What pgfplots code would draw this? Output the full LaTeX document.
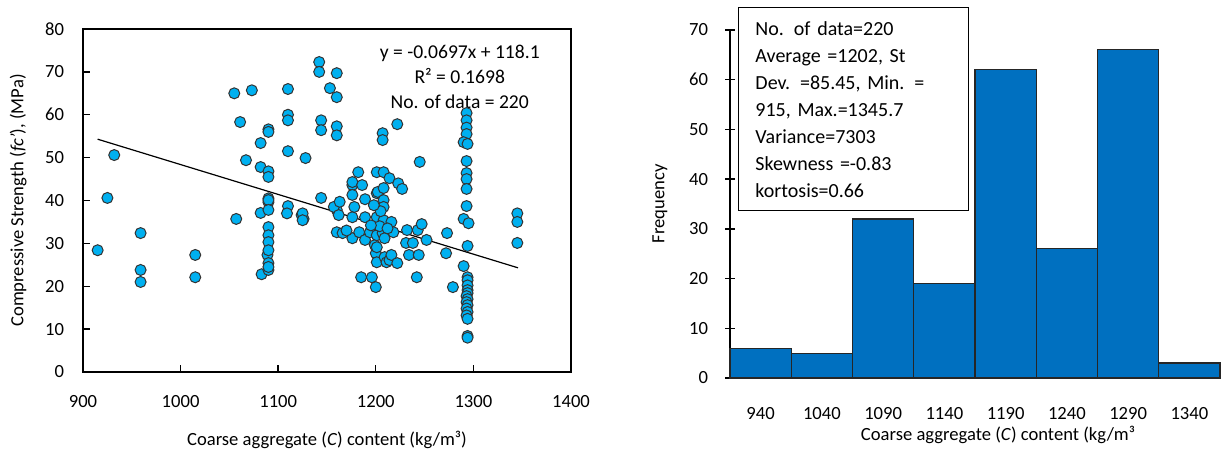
\documentclass[border=0pt]{standalone}
\usepackage{fontspec}
\setmainfont{Carlito}
\usepackage{pgfplots}
\pgfplotsset{compat=1.18}
\definecolor{dot}{RGB}{0,176,240}
\definecolor{barc}{RGB}{0,112,192}
\newcommand{\fs}{\fontsize{9.3}{11}\selectfont}
\begin{document}
\begin{tikzpicture}[x=1pt,y=1pt]
\begin{axis}[
  at={(41.5pt,41.5pt)}, anchor=south west,
  scale only axis, width=244pt, height=171.5pt,
  xmin=900, xmax=1400, ymin=0, ymax=80,
  xtick={900,1000,...,1400}, ytick={0,10,...,80},
  tick align=inside, xtick pos=bottom, ytick pos=left,
  major tick length=3.5pt,
  tick style={black, line width=0.7pt},
  axis line style={black, line width=1.3pt},
  /pgf/number format/assume math mode=true,
  /pgf/number format/set thousands separator={},
  ticklabel style={font=\fs},
  xticklabel style={yshift=-8pt},
  yticklabel style={xshift=-6pt},
  xlabel={Coarse aggregate (\textit{C}) content (kg/m³)},
  ylabel={Compressive Strength (\textit{fc'}), (MPa)},
  xlabel style={font=\fs, at={(axis description cs:0.5,-0.198)}, anchor=center},
  ylabel style={font=\fs, at={(axis description cs:-0.133,0.5)}, anchor=center},
  clip=false,
]
\addplot[black, line width=0.6pt] coordinates {(915,54.3) (1345.7,24.3)};
\addplot[only marks, mark=*, mark size=2.75pt, mark options={fill=dot, draw=black!80, line width=0.5pt}] coordinates {
(915,28.4) (925,40.6) (932,50.6) (959,32.4) (959,23.8) (959,21.0) (1015,27.3) (1015,22.1)
(1055,65.0) (1057,35.7) (1061,58.3) (1067,49.4) (1073,65.7) (1082,53.4) (1082,47.8) (1082,37.1)
(1083,22.8) (1089,27.3) (1090,56.6) (1090,56.0) (1090,46.8) (1090,45.5) (1090,40.5) (1090,39.6)
(1090,40.1) (1090,37.8) (1090,33.8) (1090,31.9) (1090,30.3) (1090,28.4) (1090,25.4) (1090,23.8)
(1090,24.5) (1110,66.0) (1110,60.0) (1110,58.7) (1110,51.5) (1110,38.7) (1109,37.0) (1124,36.6)
(1126,35.7) (1128,49.9) (1142,72.3) (1142,70.0) (1144,58.7) (1144,56.4) (1144,40.6) (1153,66.2)
(1160,69.7) (1160,64.1) (1160,57.3) (1160,55.2) (1160,37.8) (1157,38.5) (1162,36.6) (1163,39.7)
(1160,32.6) (1166,32.4) (1176,43.6) (1176,44.3) (1176,41.3) (1176,36.1) (1176,31.2) (1178,38.5)
(1182,46.6) (1183,32.6) (1185,22.1) (1186,43.6) (1189,40.3) (1189,36.1) (1189,30.8) (1194,32.6)
(1196,22.1) (1199,29.6) (1200,27.7) (1200,19.8) (1201,46.6) (1201,41.7) (1201,36.1) (1201,31.9)
(1201,29.1) (1201,25.6) (1202,42.0) (1207,32.4) (1207,55.7) (1207,54.1) (1208,46.6) (1208,42.9)
(1208,40.1) (1208,38.5) (1208,35.4) (1209,31.2) (1209,26.8) (1211,25.6) (1214,45.2) (1214,26.1)
(1216,35.0) (1216,27.3) (1218,32.6) (1222,57.8) (1222,25.4) (1223,44.0) (1227,42.7) (1231,30.1)
(1232,33.1) (1234,27.3) (1238,30.1) (1242,22.1) (1243,33.1) (1244,27.3) (1245,49.0) (1247,34.5)
(1252,30.8) (1272,27.7) (1273,32.4) (1279,19.8) (1125,37.0) (1125,35.4) (1204,34.0) (1212,33.5)
(1195,34.2) (1170,33.0) (1205,37.5) (1198,38.9)
(1293,60.4) (1293,58.7) (1293,57.0) (1293,55.5) (1290,53.6) (1294,53.2) (1293,49.2) (1293,46.4)
(1293,45.0) (1293,42.7) (1293,38.7) (1290,35.7) (1295,34.7) (1294,29.4) (1290,24.7) (1294,22.1)
(1294,21.4) (1294,20.2) (1294,19.1) (1294,18.4) (1293,17.7) (1294,17.0) (1293,16.3) (1294,15.6)
(1293,14.8) (1294,14.0) (1293,13.2) (1294,12.4) (1294,8.4) (1294,8.0)
(1345,37.0) (1345,35.0) (1345,30.1)
};
\node[font=\fontsize{9.8}{11}\selectfont, align=center, inner sep=0pt] at (axis cs:1286,68.8)
  {y = -0.0697x + 118.1\\[1.5pt] R² = 0.1698\\[1.5pt] No. of data = 220};
\draw[black, line width=1.3pt] (rel axis cs:0,0) rectangle (rel axis cs:1,1);
\end{axis}

\begin{axis}[
  at={(365pt,38.5pt)}, anchor=south west,
  scale only axis, width=245pt, height=174pt,
  xmin=-0.5, xmax=7.5, ymin=0, ymax=70,
  axis x line=bottom, axis y line=left,
  axis line style={-, black, line width=0.9pt},
  xtick={0,...,7},
  xticklabels={940,1040,1090,1140,1190,1240,1290,1340},
  ytick={0,10,...,70},
  xtick style={draw=none},
  ytick style={black, line width=0.7pt},
  tick align=center, major tick length=5pt,
  /pgf/number format/assume math mode=true,
  ticklabel style={font=\fs},
  xticklabel style={yshift=-8.5pt},
  yticklabel style={xshift=-5pt},
  xlabel={Coarse aggregate (\textit{C}) content (kg/m³},
  ylabel={Frequency},
  xlabel style={font=\fs, at={(axis description cs:0.547,-0.164)}, anchor=center},
  ylabel style={font=\fs, at={(axis description cs:-0.143,0.5)}, anchor=center},
  clip=false,
]
\addplot[ybar, bar width=1, fill=barc, draw=black!85, line width=0.6pt] coordinates {
(0,6) (1,5) (2,32) (3,19) (4,62) (5,26) (6,66) (7,3)};
\node[draw=black, line width=0.6pt, fill=white, anchor=north west, text width=98pt,
  minimum height=101.5pt, inner xsep=8.5pt, inner ysep=0pt, align=left,
  font=\fontsize{10}{13.5}\selectfont] at (rel axis cs:0.016,1.066)
  {No. of data=220\\ Average =1202, St\\ Dev. =85.45, Min. =\\ 915, Max.=1345.7\\ Variance=7303\\ Skewness =-0.83\\ kortosis=0.66};
\end{axis}
\pgfresetboundingbox
\path[use as bounding box] (0,0) rectangle (612.5,227.5);
\end{tikzpicture}
\end{document}
